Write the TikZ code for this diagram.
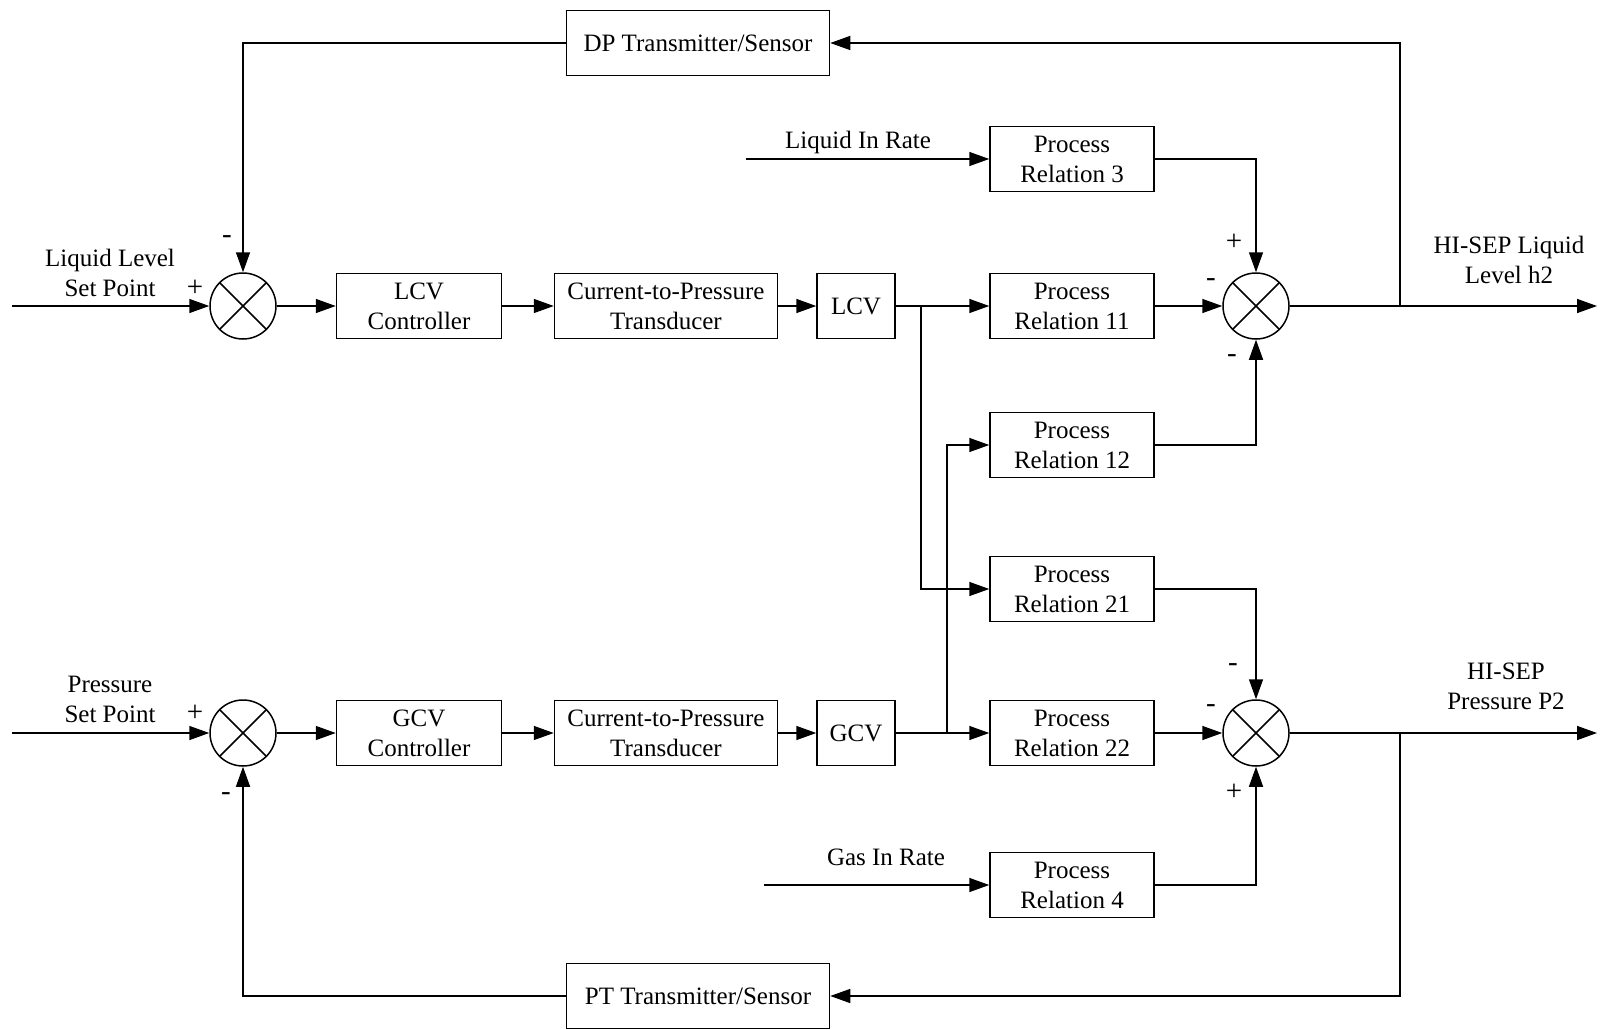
\documentclass[tikz,border=0pt]{standalone}
\usepackage{fontspec}
\setmainfont{Liberation Serif}
\usetikzlibrary{arrows.meta}
\begin{document}
\begin{tikzpicture}[x=1pt,y=-1pt,
  every node/.style={font=\fontsize{25}{30}\selectfont},
  blk/.style={draw, line width=1.5pt, align=center, inner sep=0pt, minimum height=65pt},
  sumnode/.style={draw, circle, line width=1.5pt, minimum size=66pt, inner sep=0pt},
  lbl/.style={align=center, inner sep=0pt},
  sgn/.style={inner sep=0pt, font=\fontsize{29}{30}\selectfont},
  sig/.style={line width=1.5pt, -{Triangle[length=20pt,width=14pt]}}
]
\useasboundingbox (0,0) rectangle (1612,1030);

% feedback sensors
\node[blk, minimum width=263pt] (dp) at (698,43) {DP Transmitter/Sensor};
\node[blk, minimum width=263pt] (pt) at (698,996) {PT Transmitter/Sensor};

% level loop
\node[sumnode] (s1) at (243,306) {};
\node[blk, minimum width=165pt] (lcvc) at (419,306) {LCV\\Controller};
\node[blk, minimum width=223pt] (ip1) at (666,306) {Current-to-Pressure\\Transducer};
\node[blk, minimum width=78pt] (lcv) at (856,306) {LCV};

% pressure loop
\node[sumnode] (s4) at (243,733) {};
\node[blk, minimum width=165pt] (gcvc) at (419,733) {GCV\\Controller};
\node[blk, minimum width=223pt] (ip2) at (666,733) {Current-to-Pressure\\Transducer};
\node[blk, minimum width=78pt] (gcv) at (856,733) {GCV};

% process relations
\node[blk, minimum width=164pt] (pr3) at (1072,159) {Process\\Relation 3};
\node[blk, minimum width=164pt] (pr11) at (1072,306) {Process\\Relation 11};
\node[blk, minimum width=164pt] (pr12) at (1072,445) {Process\\Relation 12};
\node[blk, minimum width=164pt] (pr21) at (1072,589) {Process\\Relation 21};
\node[blk, minimum width=164pt] (pr22) at (1072,733) {Process\\Relation 22};
\node[blk, minimum width=164pt] (pr4) at (1072,885) {Process\\Relation 4};

% output summing junctions
\node[sumnode] (s2) at (1256,306) {};
\node[sumnode] (s3) at (1256,733) {};

% crosses inside the summing junctions
\foreach \s in {s1,s2,s3,s4}{
  \draw[line width=1.5pt] (\s.north west) -- (\s.south east);
  \draw[line width=1.5pt] (\s.north east) -- (\s.south west);
}

% free ends and branch points
\coordinate (in1) at (12,306);
\coordinate (in2) at (12,733);
\coordinate (out1) at (1597,306);
\coordinate (out2) at (1597,733);
\coordinate (tap1) at (1400,306);
\coordinate (tap2) at (1400,733);
\coordinate (br1) at (921,306);
\coordinate (br2) at (947,733);
\coordinate (liqin) at (746,159);
\coordinate (gasin) at (764,885);

% text labels
\node[lbl] (lsp) at (110,273) {Liquid Level\\Set Point};
\node[lbl] (psp) at (110,699) {Pressure\\Set Point};
\node[lbl] (hl) at (1509,260) {HI-SEP Liquid\\Level h2};
\node[lbl] (hp) at (1506,686) {HI-SEP\\Pressure P2};
\node[lbl] (lir) at (858,142) {Liquid In Rate};
\node[lbl] (gir) at (886,857) {Gas In Rate};

% signs
\node[sgn] (p1) at (195,288) {+};
\node[sgn] (m1) at (227,240) {-};
\node[sgn] (p2) at (1234,242) {+};
\node[sgn] (m2a) at (1211,283) {-};
\node[sgn] (m2b) at (1232,359) {-};
\node[sgn] (m3a) at (1233,668) {-};
\node[sgn] (m3b) at (1211,709) {-};
\node[sgn] (p3) at (1234,792) {+};
\node[sgn] (p4) at (195,713) {+};
\node[sgn] (m4) at (226,797) {-};

% level loop signals
\draw[sig] (in1) -- (s1);
\draw[sig] (s1) -- (lcvc);
\draw[sig] (lcvc) -- (ip1);
\draw[sig] (ip1) -- (lcv);
\draw[sig] (lcv) -- (pr11);
\draw[sig] (pr11) -- (s2);
\draw[sig] (s2) -- (out1);
\draw[sig] (tap1) |- (dp);
\draw[sig] (dp) -| (s1);
\draw[sig] (liqin) -- (pr3);
\draw[sig] (pr3) -| (s2);
\draw[sig] (pr12) -| (s2);

% cross couplings
\draw[sig] (br1) |- (pr21);
\draw[sig] (br2) |- (pr12);

% pressure loop signals
\draw[sig] (in2) -- (s4);
\draw[sig] (s4) -- (gcvc);
\draw[sig] (gcvc) -- (ip2);
\draw[sig] (ip2) -- (gcv);
\draw[sig] (gcv) -- (pr22);
\draw[sig] (pr22) -- (s3);
\draw[sig] (pr21) -| (s3);
\draw[sig] (pr4) -| (s3);
\draw[sig] (gasin) -- (pr4);
\draw[sig] (s3) -- (out2);
\draw[sig] (tap2) |- (pt);
\draw[sig] (pt) -| (s4);
\end{tikzpicture}
\end{document}
